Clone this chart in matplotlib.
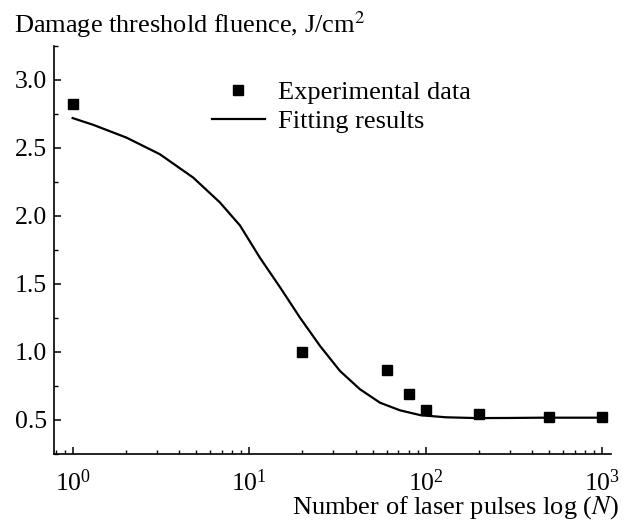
import numpy as np
import matplotlib
matplotlib.use("Agg")
import matplotlib.pyplot as plt
from matplotlib.ticker import MultipleLocator, LogLocator, NullFormatter

plt.rcParams['font.family'] = ['Liberation Serif', 'DejaVu Serif']
plt.rcParams['mathtext.fontset'] = 'stix'
plt.rcParams['font.size'] = 19

# experimental points
pulses = [1, 20, 60, 80, 100, 200, 500, 1000]
fluence = [2.82, 1.0, 0.865, 0.69, 0.57, 0.545, 0.525, 0.52]

# fitted curve
fit_n = [1.0, 1.31, 2.02, 3.12, 4.82, 6.82, 8.87, 11.5, 15.0, 19.4, 25.2,
         32.7, 42.4, 55.1, 71.5, 93.7, 130, 195, 300, 463, 1000]
fit_f = [2.72, 2.67, 2.576, 2.454, 2.282, 2.10, 1.93, 1.693, 1.473, 1.252,
         1.044, 0.86, 0.726, 0.627, 0.571, 0.535, 0.52, 0.514, 0.515, 0.517,
         0.517]

fig = plt.figure(figsize=(6.29, 5.22), dpi=100)
ax = fig.add_axes([54 / 629, 1 - 454 / 522, (611 - 54) / 629, (454 - 46) / 522])

ax.plot(fit_n, fit_f, color='black', lw=1.6, label='Fitting results')
ax.plot(pulses, fluence, 's', color='black', ms=7.2, label='Experimental data')

ax.set_xscale('log')
ax.set_xlim(0.784, 1120)
ax.set_ylim(0.25, 3.25)

ax.yaxis.set_major_locator(MultipleLocator(0.5))
ax.yaxis.set_minor_locator(MultipleLocator(0.25))
ax.yaxis.set_major_formatter(matplotlib.ticker.FormatStrFormatter('%.1f'))
ax.xaxis.set_major_locator(LogLocator(base=10))
ax.xaxis.set_minor_locator(LogLocator(base=10, subs=np.arange(2, 10)))
ax.xaxis.set_minor_formatter(NullFormatter())

for s in ['top', 'right']:
    ax.spines[s].set_visible(False)
for s in ['left', 'bottom']:
    ax.spines[s].set_linewidth(1.2)
ax.tick_params(which='major', direction='in', length=5, width=1.1, labelsize=18.5)
ax.tick_params(axis='y', which='major', pad=5)
ax.tick_params(axis='x', which='major', pad=11)
ax.tick_params(which='minor', direction='in', length=3, width=1.0)

handles, labels = ax.get_legend_handles_labels()
ax.legend(handles[::-1], labels[::-1], frameon=False, loc='upper left',
          bbox_to_anchor=(212 / 629, 1 - 81 / 522), bbox_transform=fig.transFigure,
          borderaxespad=0, borderpad=0, handlelength=2.0, handletextpad=0.5,
          labelspacing=0.2, fontsize=19)

fig.text(14 / 629, 1 - 33 / 522, 'Damage threshold fluence, J/cm$^2$', fontsize=19,
         va='baseline', ha='left')
fig.text(619 / 629, 1 - 514 / 522, 'Number of laser pulses log ($\\mathit{N}$)', fontsize=19,
         va='baseline', ha='right')

fig.savefig('out.png', dpi=100)
